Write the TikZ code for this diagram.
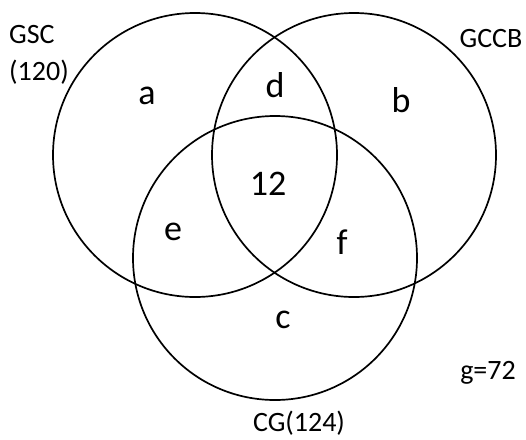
\documentclass[tikz,border=0pt]{standalone}
\usepackage{fontspec}
\setmainfont{Carlito}
\begin{document}
\begin{tikzpicture}[x=1pt,y=-1pt,
  ring/.style={draw=black,line width=1.7pt},
  outer/.style={font=\fontsize{28}{32}\selectfont,inner sep=0pt},
  inner/.style={font=\fontsize{36}{40}\selectfont,inner sep=0pt}]
\useasboundingbox (0,0) rectangle (526,439);
\node[ring,circle,minimum size=284pt,inner sep=0pt] (gsc) at (195,155) {};
\node[ring,circle,minimum size=284pt,inner sep=0pt] (gccb) at (354,155) {};
\node[ring,circle,minimum size=284pt,inner sep=0pt] (cg) at (275,258) {};
\node[outer,anchor=west] (lgsc) at (9,35) {GSC};
\node[outer,anchor=west] (lgscn) at (9,72) {(120)};
\node[outer] (lgccb) at (491,39) {GCCB};
\node[outer] (lcg) at (299,423) {CG(124)};
\node[outer] (lg) at (488,373) {g=72};
\node[inner] (a) at (147,96) {a};
\node[inner] (d) at (275,85) {d};
\node[inner] (b) at (401,100) {b};
\node[inner] (n12) at (268,184) {12};
\node[inner] (e) at (173,232) {e};
\node[inner] (f) at (342,242) {f};
\node[inner] (c) at (283,320) {c};
\end{tikzpicture}
\end{document}
